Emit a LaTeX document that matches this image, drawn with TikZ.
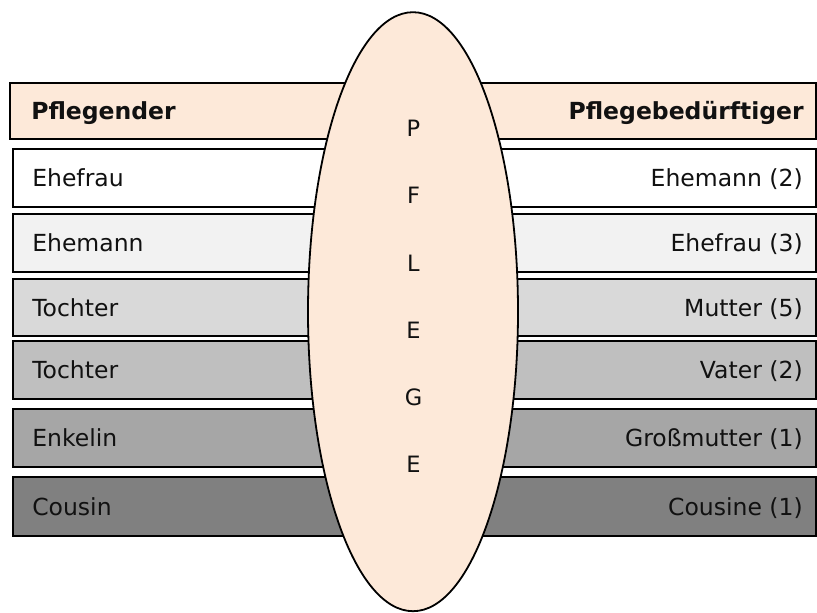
\documentclass[tikz,border=0pt]{standalone}
\usepackage{fontspec}
\setmainfont{DejaVu Sans}
\definecolor{peach}{HTML}{FDE9D9}
\definecolor{g1}{HTML}{FFFFFF}
\definecolor{g2}{HTML}{F2F2F2}
\definecolor{g3}{HTML}{D9D9D9}
\definecolor{g4}{HTML}{BFBFBF}
\definecolor{g5}{HTML}{A6A6A6}
\definecolor{g6}{HTML}{808080}
\definecolor{txt}{HTML}{111111}
\begin{document}
\begin{tikzpicture}[x=1bp,y=-1bp,
  rowbox/.style={draw=black, line width=1.8bp, rectangle, inner sep=0pt, minimum width=803bp, minimum height=58bp},
  lefttext/.style={anchor=base west, inner sep=0pt, text=txt, font=\fontsize{23.5bp}{27bp}\selectfont},
  righttext/.style={anchor=base east, inner sep=0pt, text=txt, font=\fontsize{23.5bp}{27bp}\selectfont},
  letter/.style={anchor=base, inner sep=0pt, text=txt, font=\fontsize{22.5bp}{26bp}\selectfont}]
\useasboundingbox (0,0) rectangle (817,613);
% header
\node[rowbox, fill=peach, minimum width=806bp, minimum height=56bp] (hd) at (413,111) {};
\node[rowbox, fill=g1] (r1) at (414.5,178) {};
\node[rowbox, fill=g2] (r2) at (414.5,243) {};
\node[rowbox, fill=g3, minimum height=57bp] (r3) at (414.5,307.5) {};
\node[rowbox, fill=g4] (r4) at (414.5,370) {};
\node[rowbox, fill=g5] (r5) at (414.5,438) {};
\node[rowbox, fill=g6, minimum height=59bp] (r6) at (414.5,506.5) {};
% texts
\node[lefttext, font=\fontsize{23.5bp}{27bp}\selectfont\bfseries] (hl) at ([shift={(22,8.5)}]hd.west) {Pflegender};
\node[righttext, font=\fontsize{23.5bp}{27bp}\selectfont\bfseries] (hr) at ([shift={(-13,8.5)}]hd.east) {Pflegebedürftiger};
\node[lefttext] (l1) at ([shift={(20,8.5)}]r1.west) {Ehefrau};
\node[righttext] (q1) at ([shift={(-14,8.5)}]r1.east) {Ehemann (2)};
\node[lefttext] (l2) at ([shift={(20,8.5)}]r2.west) {Ehemann};
\node[righttext] (q2) at ([shift={(-14,8.5)}]r2.east) {Ehefrau (3)};
\node[lefttext] (l3) at ([shift={(20,8.5)}]r3.west) {Tochter};
\node[righttext] (q3) at ([shift={(-14,8.5)}]r3.east) {Mutter (5)};
\node[lefttext] (l4) at ([shift={(20,8.5)}]r4.west) {Tochter};
\node[righttext] (q4) at ([shift={(-14,8.5)}]r4.east) {Vater (2)};
\node[lefttext] (l5) at ([shift={(20,8.5)}]r5.west) {Enkelin};
\node[righttext] (q5) at ([shift={(-14,8.5)}]r5.east) {Großmutter (1)};
\node[lefttext] (l6) at ([shift={(20,8.5)}]r6.west) {Cousin};
\node[righttext] (q6) at ([shift={(-14,8.5)}]r6.east) {Cousine (1)};
% ellipse
\draw[line width=1.8bp, fill=peach] (413,311.7) ellipse [x radius=105, y radius=299.5];
\coordinate (ec) at (413,311.7);
\node[letter] (p1) at (413.5,137) {P};
\node[letter] (p2) at (413.5,204) {F};
\node[letter] (p3) at (413.5,271) {L};
\node[letter] (p4) at (413.5,338) {E};
\node[letter] (p5) at (413.5,405) {G};
\node[letter] (p6) at (413.5,472) {E};
\end{tikzpicture}
\end{document}
